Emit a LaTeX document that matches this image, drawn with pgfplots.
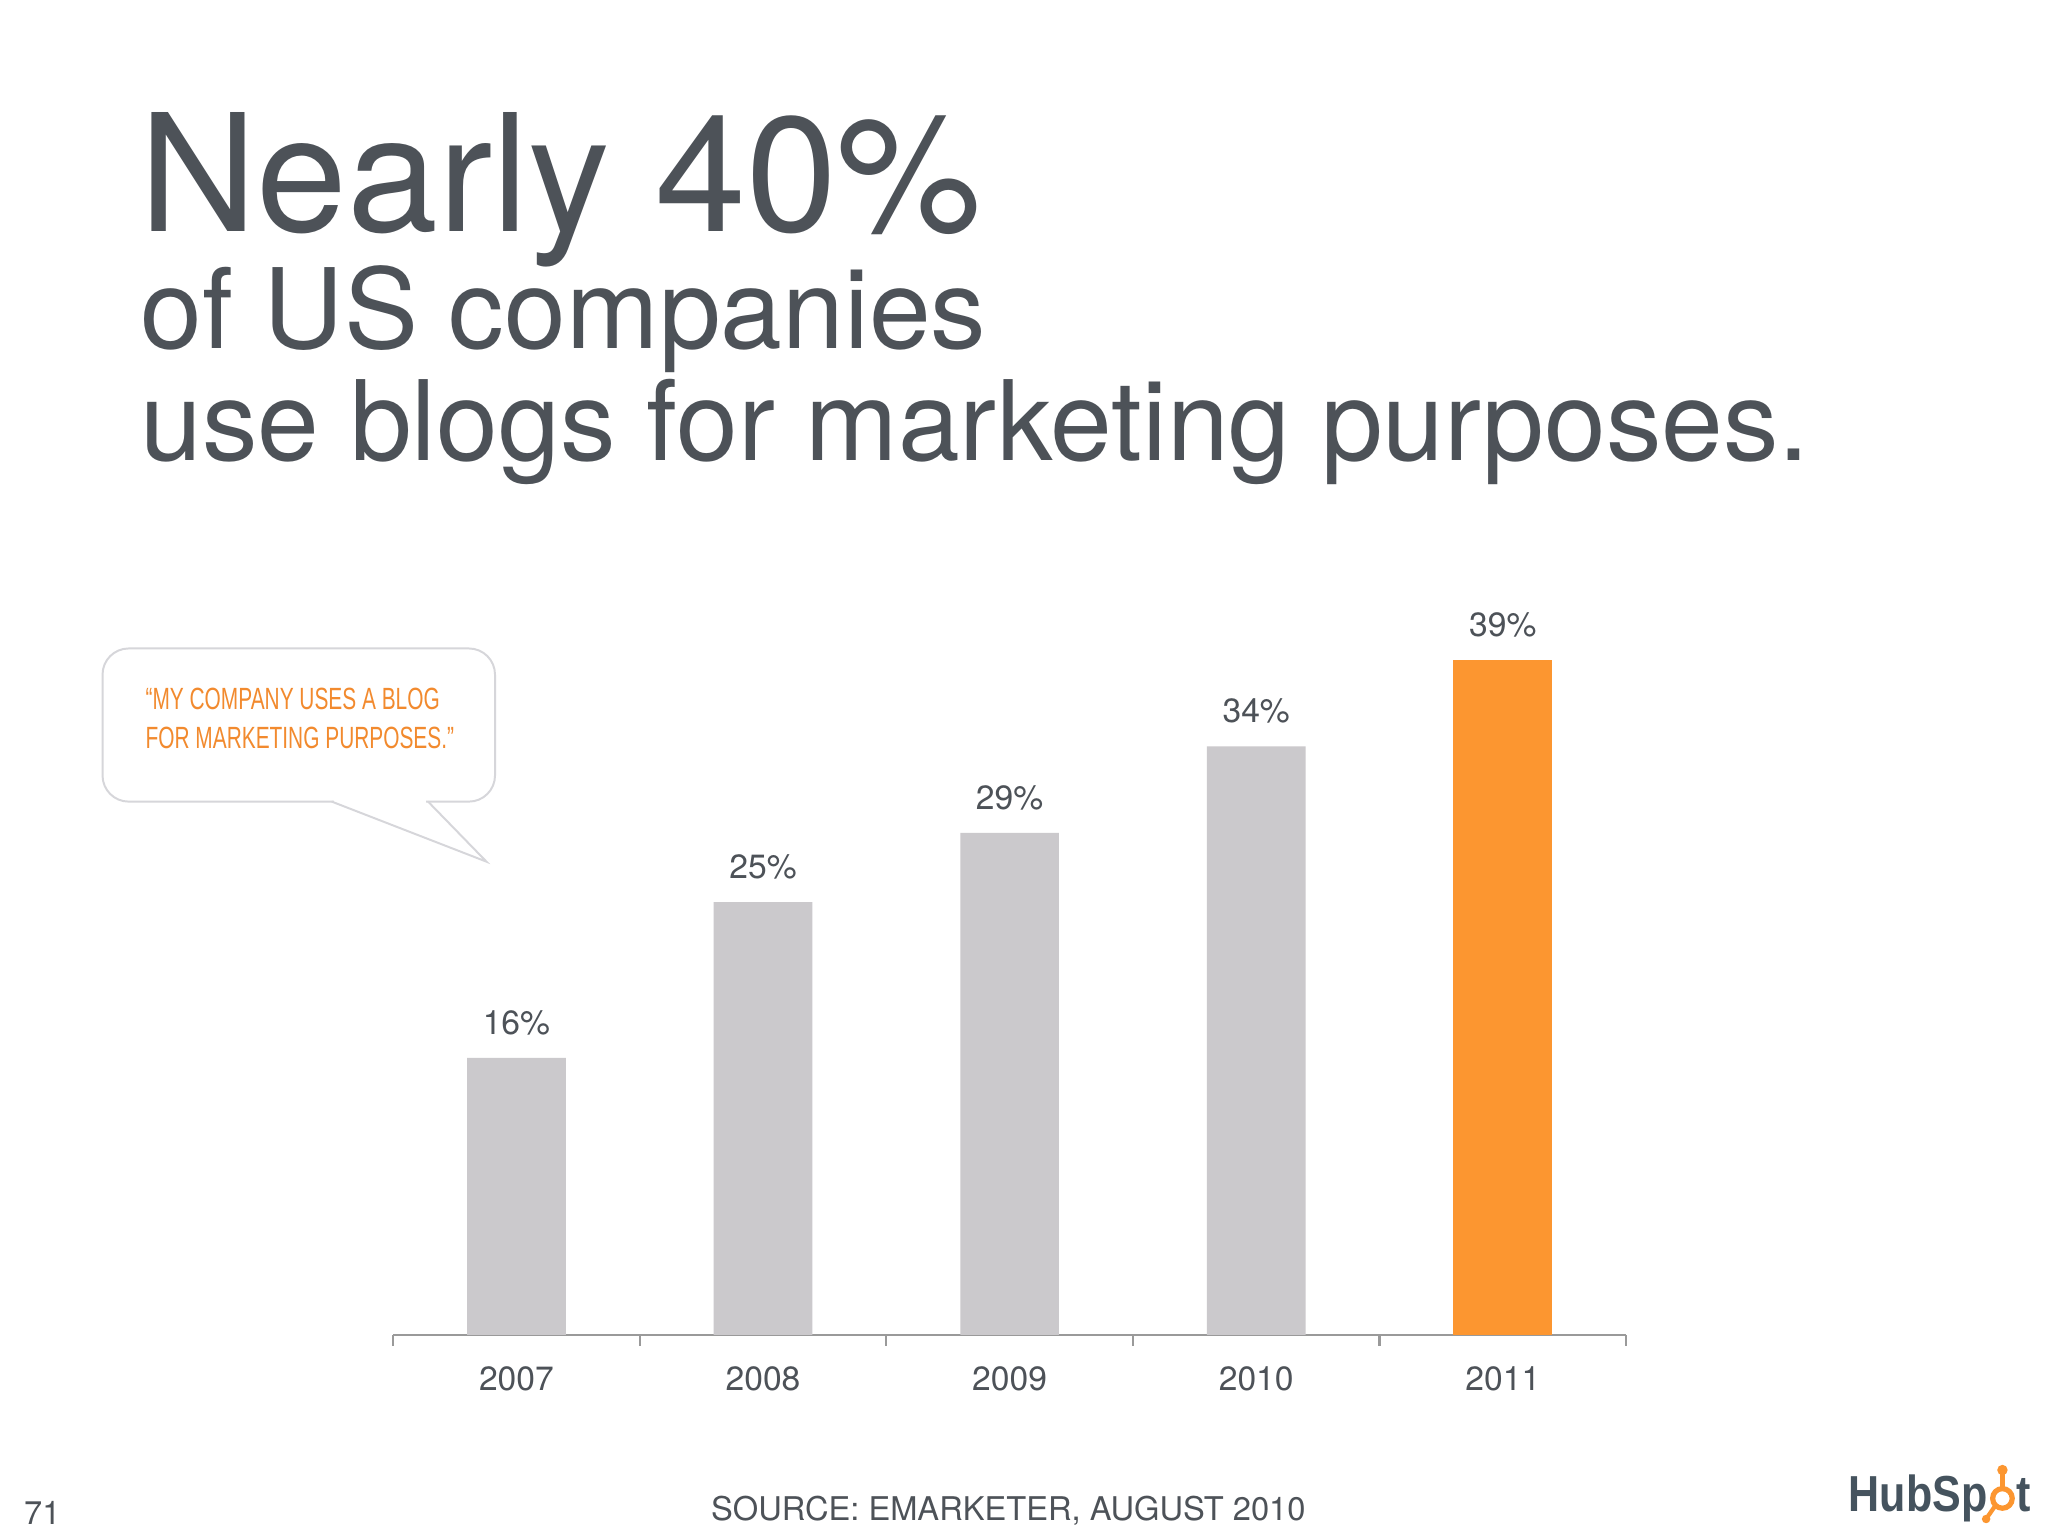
\documentclass[border=0pt]{standalone}
\usepackage{fontspec}
\usepackage{pgfplots}
\pgfplotsset{compat=1.18}
\usetikzlibrary{calc}
\setmainfont{TeX Gyre Heros}
\newfontfamily\condfont[FakeStretch=0.68]{Liberation Sans}
\newfontfamily\logofont[FakeStretch=0.85]{Liberation Sans}
\definecolor{textgray}{HTML}{4D5258}
\definecolor{bargray}{HTML}{CBC9CC}
\definecolor{barorange}{HTML}{FC9630}
\definecolor{axisgray}{HTML}{9A9A9A}
\definecolor{calloutgray}{HTML}{D6D6DA}
\definecolor{calloutorange}{HTML}{F28A2E}
\definecolor{logogray}{HTML}{45535E}
\begin{document}
\begin{tikzpicture}
\fill[white] (0pt,0pt) rectangle (627.2pt,470.4pt);
% titles
\node[anchor=base west, inner sep=0pt, text=textgray] at (42.4pt,399.4pt) {\fontsize{50}{60}\selectfont Nearly 40\%};
\node[anchor=base west, inner sep=0pt, text=textgray] at (42.8pt,363.7pt) {\fontsize{34}{40}\selectfont of US companies};
\node[anchor=base west, inner sep=0pt, text=textgray] at (42.8pt,329.5pt) {\fontsize{34}{40}\selectfont use blogs for marketing purposes.};
% callout
\draw[calloutgray, line width=0.6pt, fill=white, rounded corners=8pt] (31.4pt,224.9pt) rectangle (151.6pt,271.8pt);
\fill[white] (102.2pt,223.9pt) rectangle (130.5pt,225.9pt);
\draw[calloutgray, line width=0.6pt] (101.6pt,224.9pt) -- (149.0pt,206.5pt) -- (131.1pt,224.9pt);
\node[anchor=base west, inner sep=0pt, text=calloutorange] at (44.4pt,253.0pt) {\condfont\fontsize{9.4}{11}\selectfont “MY COMPANY USES A BLOG};
\node[anchor=base west, inner sep=0pt, text=calloutorange] at (44.4pt,241.2pt) {\condfont\fontsize{9.4}{11}\selectfont FOR MARKETING PURPOSES.”};
\begin{axis}[
  at={(120.4pt,61.6pt)}, anchor=south west,
  scale only axis, width=377.6pt, height=212pt,
  xmin=-0.5, xmax=4.5, ymin=0, ymax=40,
  axis x line=bottom, axis y line=none,
  axis line style={draw=axisgray, line width=0.8pt, -},
  xtick={0,1,2,3,4},
  xticklabels={2007,2008,2009,2010,2011},
  major tick length=0pt,
  minor xtick={-0.5,0.5,1.5,2.5,3.5,4.5},
  minor tick length=3.4pt,
  tick align=outside,
  minor tick style={draw=axisgray, line width=0.7pt},
  xticklabel style={font=\fontsize{10.3}{12}\selectfont, text=textgray, inner sep=0pt, yshift=-9.6pt},
  /pgf/number format/assume math mode=true,
  nodes near coords={\pgfmathprintnumber{\pgfplotspointmeta}\%},
  every node near coord/.append style={font=\fontsize{10.3}{12}\selectfont, text=textgray, anchor=south, inner sep=0pt, yshift=6.8pt},
  clip=false,
]
\addplot[ybar, bar width=0.4, bar shift=0pt, fill=bargray, draw=none] coordinates {(0,16) (1,25) (2,29) (3,34)};
\addplot[ybar, bar width=0.4, bar shift=0pt, fill=barorange, draw=none] coordinates {(4,39)};
\end{axis}
% footer
\node[anchor=base, inner sep=0pt, text=textgray] at (308.8pt,4.8pt) {\fontsize{10}{12}\selectfont SOURCE: EMARKETER, AUGUST 2010};
\node[anchor=base west, inner sep=0pt, text=textgray] at (7.2pt,3.6pt) {\fontsize{10}{12}\selectfont 71};
% logo
\node[anchor=base west, inner sep=0pt, text=logogray] (hs) at (566pt,7.6pt) {\logofont\bfseries\fontsize{15.5}{18}\selectfont HubSp};
\draw[barorange, line width=1.6pt] ($(hs.base east)+(4.4pt,3.9pt)$) circle (3.0pt);
\draw[barorange, line width=1.3pt] ($(hs.base east)+(4.4pt,6.9pt)$) -- ($(hs.base east)+(4.4pt,11.5pt)$);
\fill[barorange] ($(hs.base east)+(4.4pt,12.6pt)$) circle (1.6pt);
\draw[barorange, line width=1.3pt] ($(hs.base east)+(2.3pt,1.8pt)$) -- ($(hs.base east)+(-0.2pt,-1.8pt)$);
\fill[barorange] ($(hs.base east)+(-0.6pt,-2.4pt)$) circle (1.3pt);
\node[anchor=base west, inner sep=0pt, text=logogray] at ($(hs.base east)+(8.6pt,0pt)$) {\logofont\bfseries\fontsize{15.5}{18}\selectfont t};
\end{tikzpicture}
\end{document}
